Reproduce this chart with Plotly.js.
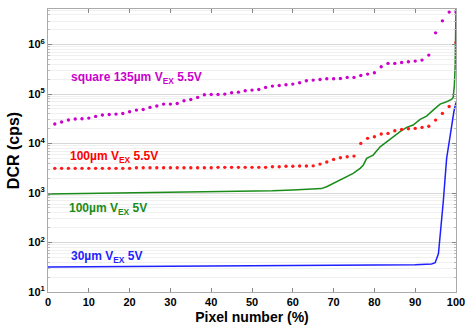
<!DOCTYPE html>
<html>
<head>
<meta charset="utf-8">
<script src="https://cdn.plot.ly/plotly-3.0.1.min.js"></script>
<style>html,body{margin:0;padding:0;background:#fff;}#chart{width:471px;height:327px;}</style>
</head>
<body>
<div id="chart"></div>
<script>
// Dotted series share the same pixel-percentage grid (60 points)
const dotX = [1.67,3.33,5,6.67,8.33,10,11.67,13.33,15,16.67,18.33,20,21.67,23.33,25,26.67,28.33,30,31.67,33.33,35,36.67,38.33,40,41.67,43.33,45,46.67,48.33,50,51.67,53.33,55,56.67,58.33,60,61.67,63.33,65,66.67,68.33,70,71.67,73.33,75,76.67,78.33,80,81.67,83.33,85,86.67,88.33,90,91.67,93.33,95,96.67,98.33,100];

const square135_55V = [24800,27200,29900,31300,31700,32700,35400,37700,38800,39400,40600,44000,47500,49000,53800,57300,62800,62800,64600,73300,78000,85700,97000,98600,98600,100000,106400,109600,116700,120500,124200,136500,145200,149600,154500,159200,169400,186200,191900,197700,204200,204200,207000,217300,217300,238200,253500,269800,356500,416900,416900,436500,449800,464500,486400,613800,1730000,3020000,4540000,4540000];

const um100_55V = [3160,3160,3160,3160,3160,3160,3160,3160,3160,3160,3160,3160,3240,3240,3240,3240,3240,3240,3240,3240,3240,3240,3240,3240,3310,3310,3310,3310,3310,3310,3310,3310,3390,3390,3470,3470,3510,3510,3550,3850,4230,4790,5160,5410,5580,10090,12740,13740,15560,16070,18160,19360,19950,20280,21230,22390,29850,40740,56230,1100000];

const greenX = [0,10,20,30,40,50,55,60,63,65,67,68.3,69.9,71.6,73.2,74.8,76.5,77.3,78.1,79.7,81.4,83,84.6,86.3,87.9,89.5,91.2,92.8,94.4,96.1,97.7,98.9,99.3,99.6,99.8,99.9,100];
const um100_5V = [960,980,1010,1030,1060,1090,1110,1150,1180,1200,1230,1340,1570,1830,2140,2500,3160,3700,5010,5860,8610,10960,13800,17380,21230,23660,30760,35970,47530,62800,70000,78000,85000,150000,400000,1500000,6000000];

const blueX = [0,20,40,60,80,90,94,94.9,95.7,96.5,96.9,97.7,98.9,99.5,100];
const um30_5V = [32,32.5,33,33.5,34.5,35.5,37,39,60,280,700,5000,22000,45000,68000];

const xTicks = [0,10,20,30,40,50,60,70,80,90,100];
const yTicks = [10,100,1000,10000,100000,1000000];
const yTickText = ['10<sup>1</sup>','10<sup>2</sup>','10<sup>3</sup>','10<sup>4</sup>','10<sup>5</sup>','10<sup>6</sup>'];

const labels = [
  {text:'square 135\u00b5m V<sub>EX</sub> 5.5V', color:'#cc00cc', x:69, y:78},
  {text:'100\u00b5m V<sub>EX</sub> 5.5V', color:'#ff0000', x:68, y:157},
  {text:'100\u00b5m V<sub>EX</sub> 5V', color:'#1a8c1a', x:67, y:209},
  {text:'30\u00b5m V<sub>EX</sub> 5V', color:'#1f1fff', x:69, y:257}
];

const L = 48, R = 456, T = 9, B = 292, W = 471, H = 327;

const traces = [
  {x: blueX, y: um30_5V, mode:'lines', line:{color:'#1f1fff', width:1.5}},
  {x: greenX, y: um100_5V, mode:'lines', line:{color:'#1a8c1a', width:1.5}},
  {x: dotX, y: um100_55V, mode:'markers', marker:{color:'#ff1a1a', size:3.4}},
  {x: dotX, y: square135_55V, mode:'markers', marker:{color:'#cc00cc', size:3.4}}
];

const layout = {
  width: W, height: H,
  margin:{l:L, r:W-R, t:T, b:H-B, pad:0},
  paper_bgcolor:'#fff', plot_bgcolor:'#fff',
  showlegend:false,
  font:{family:'Liberation Sans, Arial, sans-serif', color:'#000'},
  xaxis:{
    range:[0,100], tickvals:xTicks, ticktext:xTicks.map(String),
    ticks:'inside', ticklen:4, tickcolor:'#888', mirror:'ticks',
    showline:true, linecolor:'#aaa', linewidth:1, showgrid:false, zeroline:false,
    tickfont:{size:11, weight:'bold'},
    title:{text:'Pixel number (%)', font:{size:14, weight:'bold'}, standoff:4}
  },
  yaxis:{
    type:'log', range:[1,6.72], tickvals:yTicks, ticktext:yTickText,
    ticks:'inside', ticklen:4, tickcolor:'#888', mirror:'ticks',
    showline:true, linecolor:'#aaa', linewidth:1,
    showgrid:true, gridcolor:'#d8d8d8', gridwidth:1, zeroline:false,
    minor:{dtick:'D1', ticks:'inside', ticklen:2, tickcolor:'#bbb', showgrid:true, gridcolor:'#f0f0f0'},
    tickfont:{size:11, weight:'bold'},
    title:{text:'DCR (cps)', font:{size:16, weight:'bold'}, standoff:4}
  },
  annotations: labels.map(a => ({
    xref:'paper', yref:'paper',
    x:(a.x-L)/(R-L), y:(B-a.y)/(B-T),
    xanchor:'left', yanchor:'middle', showarrow:false,
    text:a.text, font:{size:12, weight:'bold', color:a.color}
  }))
};

Plotly.newPlot('chart', traces, layout, {displayModeBar:false, staticPlot:true});
</script>
</body>
</html>
